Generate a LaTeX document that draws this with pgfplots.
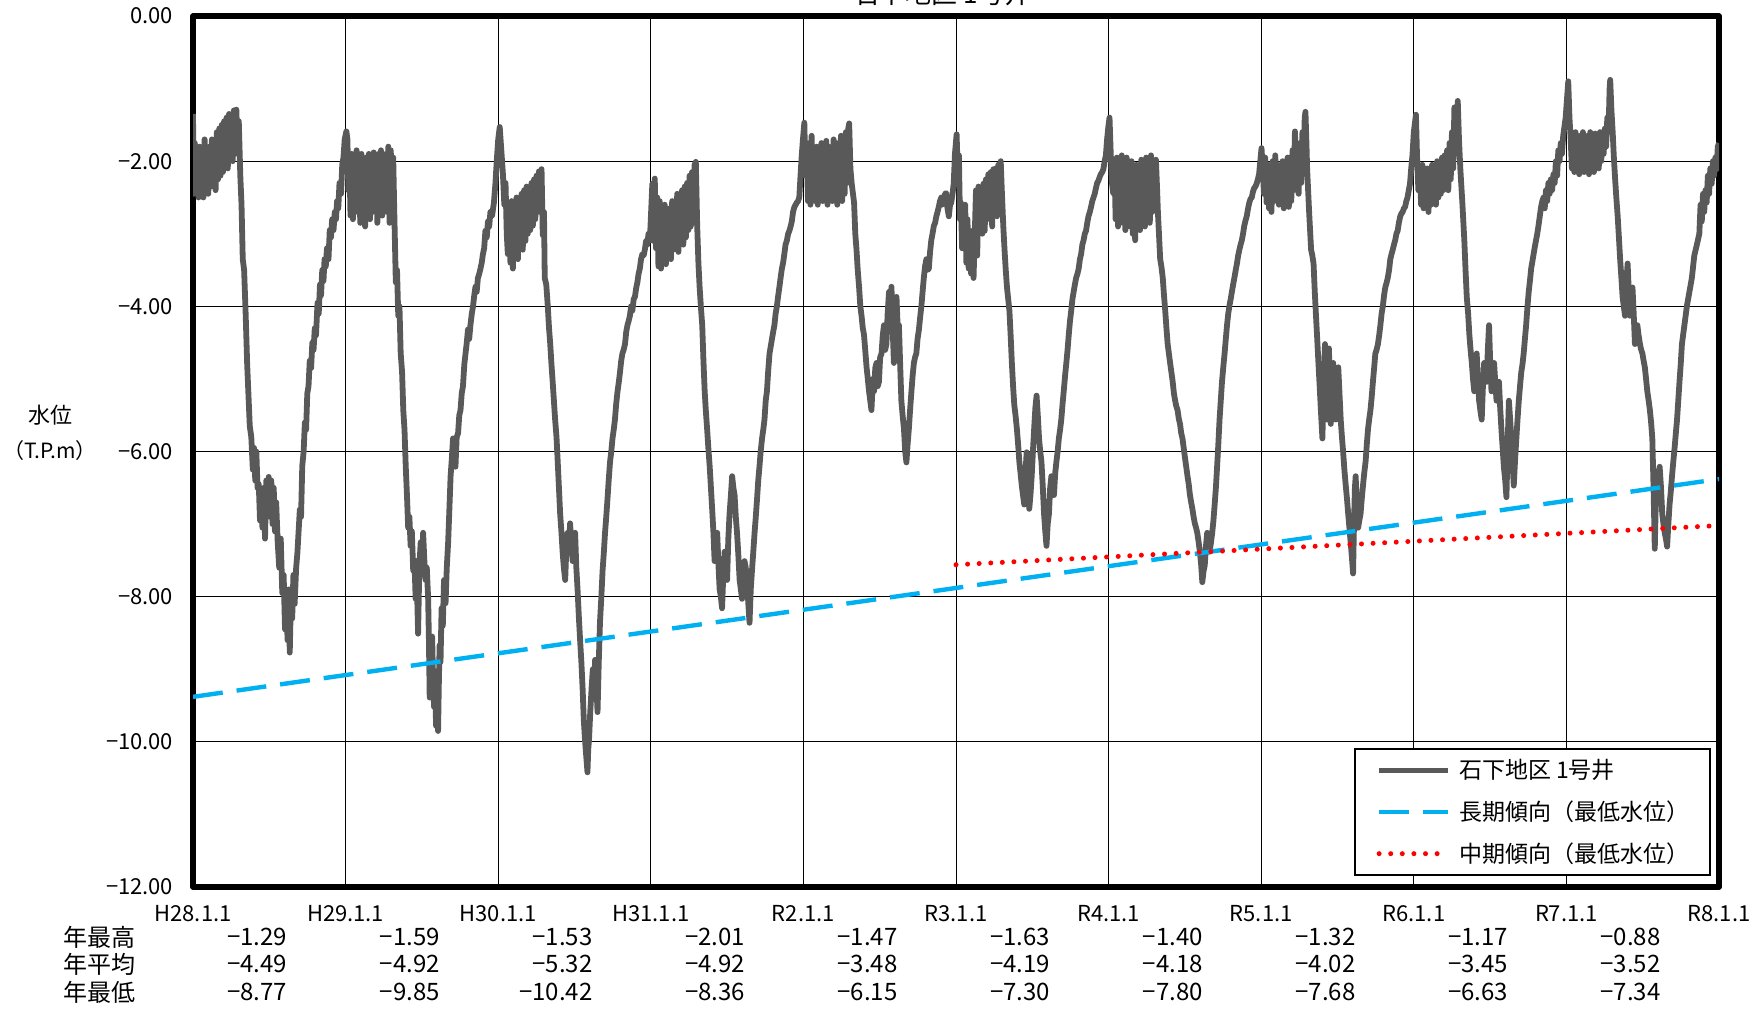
\documentclass[border=0pt]{standalone}
\usepackage{fontspec}
\setmainfont{Noto Sans CJK JP}
\usepackage{pgfplots}
\usepackage{pgfplotstable}
\pgfplotsset{compat=1.18}
\definecolor{wl}{HTML}{595959}
\definecolor{lt}{HTML}{00B0F0}
\pgfplotstableread{
t v
0.000 -1.35
0.005 -2.45
0.012 -1.75
0.020 -2.40
0.028 -1.95
0.036 -2.50
0.044 -1.80
0.052 -2.45
0.060 -1.90
0.068 -2.50
0.076 -1.70
0.084 -2.40
0.092 -1.85
0.100 -2.45
0.108 -1.80
0.116 -2.35
0.124 -1.70
0.132 -2.30
0.140 -1.80
0.148 -2.40
0.156 -1.60
0.164 -2.25
0.172 -1.55
0.180 -2.20
0.188 -1.50
0.196 -2.15
0.204 -1.45
0.212 -2.05
0.220 -1.40
0.228 -2.10
0.236 -1.35
0.244 -1.95
0.252 -1.40
0.260 -2.00
0.268 -1.30
0.276 -1.90
0.284 -1.29
0.292 -1.80
0.300 -1.45
0.310 -2.20
0.318 -2.60
0.326 -3.35
0.335 -3.50
0.345 -4.10
0.355 -4.80
0.365 -5.30
0.372 -5.65
0.382 -5.80
0.392 -6.25
0.400 -5.95
0.408 -6.40
0.415 -6.00
0.423 -6.50
0.431 -6.45
0.439 -6.95
0.447 -6.60
0.455 -7.05
0.464 -6.50
0.472 -7.20
0.480 -6.40
0.488 -6.90
0.496 -6.35
0.505 -6.80
0.513 -6.40
0.521 -7.00
0.529 -6.50
0.537 -7.10
0.545 -6.70
0.555 -7.25
0.565 -7.60
0.575 -7.20
0.585 -7.95
0.594 -7.70
0.603 -8.45
0.611 -8.10
0.620 -8.60
0.627 -7.90
0.634 -8.77
0.642 -8.00
0.650 -8.30
0.658 -7.70
0.666 -8.10
0.676 -7.60
0.684 -7.40
0.692 -7.10
0.700 -6.80
0.708 -6.90
0.716 -6.20
0.725 -6.00
0.733 -5.60
0.741 -5.70
0.749 -5.20
0.757 -5.10
0.765 -4.75
0.774 -4.85
0.782 -4.50
0.790 -4.60
0.798 -4.30
0.806 -4.40
0.816 -3.95
0.824 -4.10
0.832 -3.70
0.839 -3.85
0.847 -3.50
0.855 -3.65
0.862 -3.35
0.870 -3.45
0.878 -3.20
0.888 -3.35
0.896 -2.95
0.904 -3.05
0.912 -2.80
0.921 -2.95
0.929 -2.70
0.937 -2.80
0.944 -2.55
0.952 -2.65
0.960 -2.30
0.970 -2.45
0.978 -2.05
0.986 -1.95
0.994 -1.70
1.005 -1.59
1.012 -1.70
1.018 -2.40
1.025 -1.95
1.032 -2.75
1.040 -1.90
1.048 -2.80
1.056 -2.00
1.064 -2.70
1.072 -1.85
1.080 -2.60
1.088 -1.95
1.096 -2.85
1.104 -1.90
1.112 -2.50
1.120 -2.05
1.128 -2.90
1.136 -1.95
1.144 -2.65
1.152 -1.90
1.160 -2.80
1.168 -2.00
1.176 -2.70
1.184 -1.88
1.192 -2.55
1.200 -1.95
1.208 -2.85
1.216 -1.90
1.224 -2.60
1.232 -1.85
1.240 -2.75
1.248 -1.95
1.256 -2.60
1.264 -1.90
1.272 -2.70
1.280 -1.80
1.288 -2.85
1.296 -1.85
1.304 -2.50
1.312 -1.95
1.319 -2.70
1.329 -3.67
1.337 -3.50
1.345 -4.13
1.353 -4.00
1.361 -4.65
1.370 -4.90
1.378 -5.43
1.386 -5.70
1.394 -6.20
1.402 -6.60
1.410 -7.05
1.418 -6.90
1.426 -7.30
1.434 -7.10
1.443 -7.64
1.451 -7.50
1.459 -8.03
1.467 -7.80
1.475 -8.51
1.483 -7.60
1.492 -7.25
1.500 -7.60
1.508 -7.12
1.516 -7.50
1.524 -7.77
1.532 -7.60
1.541 -8.03
1.546 -8.60
1.551 -9.39
1.559 -8.80
1.567 -8.55
1.574 -9.20
1.580 -9.52
1.587 -9.30
1.593 -9.78
1.600 -9.60
1.606 -9.85
1.611 -9.20
1.616 -8.67
1.622 -8.90
1.629 -8.16
1.637 -8.40
1.645 -7.77
1.650 -8.00
1.655 -8.09
1.663 -7.60
1.672 -7.25
1.680 -6.80
1.688 -6.34
1.696 -6.10
1.704 -5.82
1.712 -6.00
1.720 -6.21
1.728 -5.80
1.737 -5.75
1.745 -5.50
1.753 -5.43
1.761 -5.20
1.769 -5.10
1.778 -4.80
1.786 -4.65
1.794 -4.50
1.802 -4.32
1.810 -4.45
1.818 -4.26
1.827 -4.10
1.835 -4.00
1.843 -3.85
1.851 -3.73
1.859 -3.80
1.867 -3.61
1.876 -3.55
1.884 -3.48
1.892 -3.40
1.900 -3.28
1.908 -3.20
1.916 -2.96
1.925 -3.05
1.933 -2.83
1.941 -2.90
1.949 -2.70
1.960 -2.75
1.972 -2.57
1.982 -2.30
1.991 -1.98
2.000 -1.70
2.010 -1.53
2.022 -1.90
2.031 -2.18
2.040 -2.60
2.048 -2.30
2.056 -3.00
2.063 -3.28
2.071 -2.60
2.080 -3.40
2.088 -2.55
2.096 -3.48
2.104 -2.70
2.112 -3.30
2.120 -2.50
2.129 -3.35
2.137 -2.60
2.145 -3.20
2.153 -2.45
2.161 -3.22
2.170 -2.40
2.178 -3.10
2.186 -2.35
2.194 -3.00
2.202 -2.50
2.210 -2.95
2.218 -2.30
2.227 -2.89
2.235 -2.25
2.243 -2.80
2.251 -2.20
2.259 -2.70
2.267 -2.14
2.276 -2.60
2.284 -2.11
2.292 -3.02
2.300 -2.70
2.305 -3.61
2.315 -3.70
2.325 -4.00
2.333 -4.30
2.341 -4.52
2.349 -4.80
2.357 -5.04
2.365 -5.30
2.373 -5.56
2.382 -5.80
2.390 -6.14
2.398 -6.50
2.406 -6.86
2.414 -7.10
2.422 -7.38
2.430 -7.60
2.439 -7.77
2.447 -7.30
2.455 -7.12
2.463 -7.40
2.471 -6.99
2.480 -7.30
2.488 -7.51
2.496 -7.20
2.504 -7.12
2.512 -7.60
2.520 -7.90
2.529 -8.30
2.537 -8.61
2.545 -8.90
2.553 -9.26
2.561 -9.70
2.569 -9.98
2.577 -10.20
2.585 -10.42
2.590 -10.10
2.595 -9.98
2.603 -9.60
2.612 -9.26
2.620 -9.00
2.628 -9.30
2.635 -8.87
2.643 -9.20
2.651 -9.59
2.659 -8.90
2.667 -8.35
2.676 -8.00
2.684 -7.64
2.692 -7.40
2.700 -7.12
2.708 -6.90
2.716 -6.66
2.724 -6.40
2.733 -6.14
2.741 -6.00
2.749 -5.82
2.757 -5.70
2.765 -5.56
2.773 -5.35
2.782 -5.17
2.790 -5.05
2.798 -4.91
2.806 -4.75
2.814 -4.65
2.822 -4.60
2.831 -4.52
2.839 -4.35
2.847 -4.26
2.855 -4.20
2.863 -4.13
2.871 -4.00
2.879 -4.06
2.888 -3.90
2.896 -3.87
2.904 -3.75
2.912 -3.67
2.920 -3.55
2.928 -3.48
2.936 -3.35
2.945 -3.28
2.953 -3.30
2.961 -3.22
2.969 -3.10
2.977 -3.15
2.985 -3.00
2.994 -3.09
3.002 -2.70
3.010 -2.31
3.018 -3.10
3.026 -2.24
3.034 -3.20
3.042 -2.50
3.050 -3.45
3.058 -2.55
3.067 -3.48
3.075 -2.70
3.083 -3.40
3.091 -2.60
3.099 -3.42
3.107 -2.75
3.115 -3.30
3.124 -2.65
3.132 -3.35
3.140 -2.55
3.148 -3.22
3.156 -2.60
3.164 -3.20
3.173 -2.45
3.181 -3.25
3.189 -2.50
3.197 -3.10
3.205 -2.40
3.213 -3.15
3.222 -2.35
3.230 -3.05
3.238 -2.30
3.246 -2.95
3.254 -2.20
3.262 -2.90
3.270 -2.15
3.279 -2.85
3.287 -2.05
3.295 -2.01
3.304 -2.89
3.312 -3.40
3.320 -3.74
3.328 -4.00
3.337 -4.26
3.345 -4.75
3.353 -5.17
3.361 -5.45
3.369 -5.69
3.377 -5.95
3.386 -6.21
3.394 -6.50
3.402 -6.79
3.410 -7.10
3.418 -7.51
3.426 -7.20
3.435 -7.12
3.443 -7.55
3.451 -7.90
3.459 -8.00
3.467 -8.16
3.475 -7.70
3.484 -7.38
3.492 -7.60
3.500 -7.77
3.508 -7.20
3.516 -6.86
3.525 -6.60
3.533 -6.34
3.541 -6.50
3.549 -6.60
3.557 -6.90
3.565 -7.12
3.573 -7.40
3.582 -7.77
3.590 -7.90
3.598 -8.03
3.606 -7.70
3.614 -7.51
3.622 -7.60
3.631 -7.77
3.639 -8.10
3.647 -8.36
3.655 -7.90
3.663 -7.64
3.671 -7.40
3.680 -7.12
3.688 -6.90
3.696 -6.66
3.704 -6.40
3.712 -6.21
3.720 -6.00
3.729 -5.82
3.737 -5.70
3.745 -5.56
3.753 -5.30
3.761 -5.17
3.769 -4.90
3.778 -4.65
3.786 -4.55
3.794 -4.45
3.802 -4.35
3.810 -4.26
3.818 -4.10
3.826 -4.00
3.835 -3.85
3.843 -3.73
3.851 -3.60
3.859 -3.48
3.867 -3.40
3.875 -3.28
3.883 -3.15
3.892 -3.09
3.900 -3.00
3.908 -2.96
3.916 -2.90
3.924 -2.83
3.932 -2.70
3.941 -2.63
3.949 -2.60
3.957 -2.57
3.965 -2.55
3.973 -2.50
3.981 -2.20
3.989 -1.92
3.997 -1.70
4.006 -1.47
4.014 -2.20
4.022 -1.85
4.030 -2.55
4.038 -1.75
4.046 -2.60
4.054 -1.65
4.062 -2.50
4.070 -1.85
4.078 -2.55
4.086 -1.80
4.094 -2.60
4.102 -1.90
4.110 -2.50
4.118 -1.75
4.126 -2.55
4.134 -1.85
4.142 -2.45
4.150 -1.72
4.158 -2.60
4.166 -1.80
4.174 -2.50
4.182 -1.90
4.190 -2.55
4.198 -1.70
4.206 -2.45
4.214 -1.80
4.222 -2.60
4.230 -1.75
4.238 -2.50
4.246 -1.65
4.254 -2.55
4.262 -1.80
4.270 -2.45
4.278 -1.60
4.286 -2.30
4.294 -1.55
4.300 -1.48
4.308 -2.10
4.316 -2.30
4.332 -2.57
4.340 -3.00
4.348 -3.22
4.356 -3.50
4.365 -3.74
4.373 -4.00
4.381 -4.13
4.389 -4.30
4.397 -4.39
4.405 -4.60
4.414 -4.84
4.422 -5.00
4.430 -5.17
4.438 -5.30
4.446 -5.43
4.455 -5.00
4.463 -5.17
4.471 -4.85
4.479 -4.78
4.487 -5.10
4.495 -5.04
4.503 -4.70
4.512 -4.65
4.520 -4.40
4.528 -4.26
4.536 -4.60
4.544 -4.52
4.552 -4.10
4.561 -3.80
4.569 -4.20
4.577 -3.73
4.585 -4.30
4.593 -4.78
4.601 -4.20
4.610 -3.87
4.618 -4.30
4.626 -4.26
4.634 -4.80
4.642 -5.30
4.650 -5.50
4.659 -5.69
4.667 -6.00
4.675 -6.15
4.683 -5.90
4.691 -5.69
4.700 -5.40
4.708 -5.17
4.716 -4.95
4.724 -4.78
4.732 -4.70
4.740 -4.65
4.748 -4.45
4.757 -4.32
4.765 -4.15
4.773 -4.00
4.781 -3.80
4.789 -3.61
4.797 -3.45
4.806 -3.35
4.814 -3.50
4.822 -3.48
4.830 -3.25
4.838 -3.09
4.846 -3.00
4.855 -2.89
4.863 -2.85
4.871 -2.76
4.879 -2.70
4.887 -2.63
4.895 -2.55
4.904 -2.50
4.912 -2.60
4.920 -2.57
4.928 -2.45
4.936 -2.44
4.944 -2.65
4.953 -2.76
4.961 -2.60
4.969 -2.57
4.977 -2.45
4.985 -2.31
4.993 -1.90
5.004 -1.63
5.012 -2.20
5.019 -1.92
5.026 -2.80
5.032 -2.57
5.040 -3.20
5.046 -2.70
5.052 -3.09
5.060 -2.60
5.068 -3.40
5.075 -2.80
5.083 -3.48
5.091 -3.00
5.099 -3.55
5.107 -2.96
5.115 -3.61
5.123 -3.00
5.131 -2.40
5.139 -3.30
5.147 -2.35
5.156 -2.76
5.164 -2.45
5.172 -3.00
5.180 -2.31
5.188 -2.96
5.196 -2.25
5.204 -2.80
5.212 -2.18
5.220 -2.70
5.228 -2.15
5.237 -2.90
5.245 -2.11
5.253 -2.70
5.261 -2.10
5.269 -2.76
5.277 -2.05
5.285 -2.65
5.293 -2.00
5.301 -2.45
5.310 -2.90
5.318 -3.22
5.326 -3.50
5.334 -3.74
5.342 -3.90
5.350 -4.06
5.358 -4.40
5.366 -4.78
5.374 -5.10
5.382 -5.36
5.390 -5.50
5.399 -5.69
5.407 -5.90
5.415 -6.14
5.423 -6.30
5.431 -6.47
5.439 -6.60
5.447 -6.73
5.455 -6.30
5.463 -6.01
5.471 -6.50
5.480 -6.79
5.488 -6.60
5.496 -6.34
5.504 -6.00
5.512 -5.69
5.520 -5.40
5.528 -5.23
5.536 -5.50
5.544 -5.82
5.552 -6.00
5.560 -6.14
5.569 -6.50
5.577 -6.86
5.585 -7.10
5.593 -7.30
5.601 -7.00
5.609 -6.86
5.617 -6.50
5.625 -6.34
5.634 -6.60
5.642 -6.60
5.650 -6.30
5.658 -6.14
5.666 -6.00
5.674 -5.82
5.682 -5.70
5.690 -5.56
5.698 -5.35
5.706 -5.17
5.715 -4.95
5.723 -4.78
5.731 -4.60
5.739 -4.39
5.747 -4.20
5.755 -4.06
5.763 -3.90
5.771 -3.80
5.779 -3.70
5.787 -3.61
5.796 -3.55
5.804 -3.48
5.812 -3.35
5.820 -3.28
5.828 -3.15
5.836 -3.09
5.844 -3.00
5.852 -2.96
5.860 -2.85
5.868 -2.76
5.877 -2.70
5.885 -2.63
5.893 -2.55
5.901 -2.50
5.909 -2.45
5.917 -2.37
5.925 -2.30
5.933 -2.27
5.941 -2.22
5.949 -2.18
5.958 -2.15
5.966 -2.11
5.974 -2.00
5.982 -1.92
5.990 -1.70
5.998 -1.53
6.006 -1.40
6.014 -1.90
6.022 -2.30
6.030 -2.44
6.038 -2.00
6.046 -2.80
6.054 -1.95
6.062 -2.90
6.070 -2.10
6.078 -2.85
6.086 -1.92
6.094 -2.70
6.102 -2.05
6.110 -2.95
6.118 -1.95
6.126 -2.80
6.134 -2.10
6.142 -2.90
6.150 -2.00
6.158 -3.00
6.166 -2.20
6.174 -3.09
6.182 -2.05
6.190 -2.85
6.198 -2.15
6.206 -2.95
6.214 -1.98
6.222 -2.80
6.230 -2.05
6.238 -2.90
6.246 -1.95
6.254 -2.75
6.262 -2.00
6.270 -2.85
6.278 -1.92
6.286 -2.70
6.294 -2.00
6.302 -2.60
6.310 -1.98
6.318 -2.40
6.323 -2.70
6.330 -3.00
6.338 -3.35
6.346 -3.45
6.355 -3.61
6.363 -3.85
6.371 -4.06
6.379 -4.30
6.387 -4.52
6.395 -4.65
6.403 -4.78
6.411 -4.90
6.420 -5.04
6.428 -5.20
6.436 -5.30
6.444 -5.38
6.452 -5.43
6.460 -5.55
6.468 -5.62
6.476 -5.75
6.484 -5.82
6.492 -5.95
6.500 -6.08
6.508 -6.20
6.517 -6.34
6.525 -6.45
6.533 -6.60
6.541 -6.70
6.549 -6.79
6.557 -6.90
6.565 -6.99
6.573 -7.05
6.581 -7.12
6.590 -7.25
6.598 -7.38
6.606 -7.55
6.614 -7.80
6.622 -7.65
6.630 -7.57
6.638 -7.30
6.646 -7.12
6.654 -7.30
6.662 -7.38
6.671 -7.25
6.679 -7.12
6.687 -6.95
6.695 -6.73
6.703 -6.50
6.711 -6.21
6.719 -5.90
6.727 -5.56
6.735 -5.30
6.743 -5.04
6.751 -4.85
6.760 -4.65
6.768 -4.45
6.776 -4.26
6.784 -4.10
6.792 -3.99
6.800 -3.90
6.808 -3.80
6.816 -3.70
6.824 -3.61
6.833 -3.50
6.841 -3.41
6.849 -3.30
6.857 -3.22
6.865 -3.15
6.873 -3.09
6.881 -3.00
6.889 -2.89
6.897 -2.82
6.905 -2.76
6.914 -2.65
6.922 -2.57
6.930 -2.52
6.938 -2.50
6.946 -2.42
6.954 -2.37
6.962 -2.35
6.970 -2.31
6.978 -2.25
6.986 -2.18
6.994 -2.00
7.002 -1.82
7.010 -2.10
7.018 -2.45
7.026 -1.95
7.035 -2.57
7.043 -2.05
7.051 -2.65
7.059 -2.10
7.067 -2.70
7.075 -2.00
7.083 -2.55
7.092 -1.92
7.100 -2.50
7.108 -2.05
7.116 -2.60
7.124 -2.10
7.132 -2.57
7.140 -2.00
7.148 -2.65
7.157 -2.11
7.165 -2.50
7.173 -1.95
7.181 -2.63
7.189 -2.05
7.197 -2.55
7.205 -1.85
7.213 -2.40
7.221 -1.59
7.229 -2.20
7.237 -1.90
7.245 -2.45
7.254 -1.75
7.262 -2.30
7.270 -1.60
7.278 -2.10
7.285 -1.40
7.290 -1.32
7.297 -1.80
7.301 -2.11
7.314 -2.70
7.327 -3.22
7.335 -3.30
7.343 -3.41
7.351 -3.80
7.359 -4.13
7.367 -4.45
7.375 -4.78
7.383 -5.10
7.391 -5.43
7.401 -5.82
7.410 -5.00
7.418 -4.52
7.425 -5.00
7.431 -5.56
7.437 -5.00
7.444 -4.58
7.450 -5.20
7.456 -5.62
7.464 -5.10
7.472 -4.78
7.480 -5.20
7.489 -5.56
7.497 -5.10
7.505 -4.84
7.513 -5.20
7.521 -5.56
7.529 -5.80
7.537 -6.01
7.545 -6.25
7.554 -6.47
7.562 -6.65
7.570 -6.86
7.578 -7.05
7.586 -7.25
7.594 -7.45
7.602 -7.68
7.608 -7.00
7.614 -6.50
7.619 -6.34
7.627 -6.80
7.635 -7.05
7.643 -6.95
7.651 -6.86
7.659 -6.65
7.667 -6.47
7.675 -6.30
7.684 -6.14
7.692 -5.90
7.700 -5.69
7.708 -5.55
7.716 -5.43
7.724 -5.25
7.732 -5.04
7.740 -4.85
7.748 -4.65
7.756 -4.60
7.765 -4.52
7.773 -4.40
7.781 -4.26
7.789 -4.10
7.797 -4.00
7.805 -3.85
7.813 -3.74
7.821 -3.68
7.829 -3.61
7.838 -3.50
7.846 -3.35
7.854 -3.28
7.862 -3.22
7.870 -3.15
7.878 -3.09
7.886 -3.00
7.894 -2.96
7.902 -2.85
7.911 -2.76
7.919 -2.72
7.927 -2.70
7.935 -2.65
7.943 -2.63
7.951 -2.55
7.959 -2.50
7.967 -2.40
7.975 -2.31
7.983 -2.10
7.991 -1.92
8.000 -1.60
8.014 -1.36
8.022 -2.00
8.030 -2.40
8.040 -2.18
8.048 -2.60
8.056 -2.05
8.064 -2.65
8.072 -2.20
8.080 -2.57
8.088 -2.10
8.096 -2.70
8.104 -2.25
8.112 -2.60
8.120 -2.05
8.128 -2.55
8.137 -2.18
8.145 -2.60
8.153 -2.00
8.161 -2.50
8.169 -2.10
8.177 -2.45
8.185 -1.95
8.193 -2.40
8.202 -1.92
8.210 -2.35
8.218 -1.85
8.226 -2.40
8.234 -1.75
8.242 -2.25
8.250 -1.60
8.258 -2.10
8.266 -1.26
8.274 -1.90
8.282 -1.50
8.288 -1.17
8.296 -1.70
8.305 -2.11
8.318 -2.57
8.331 -3.09
8.339 -3.50
8.347 -3.87
8.356 -4.10
8.364 -4.39
8.372 -4.60
8.380 -4.78
8.388 -5.00
8.396 -5.17
8.404 -4.85
8.412 -4.65
8.420 -5.00
8.428 -5.30
8.437 -5.45
8.445 -5.56
8.453 -5.10
8.461 -4.78
8.469 -4.95
8.477 -5.04
8.485 -4.60
8.493 -4.26
8.501 -4.80
8.509 -5.17
8.518 -4.95
8.526 -4.78
8.534 -5.05
8.542 -5.30
8.550 -5.15
8.558 -5.04
8.566 -5.40
8.574 -5.69
8.582 -5.95
8.590 -6.21
8.599 -6.40
8.607 -6.63
8.615 -5.90
8.623 -5.30
8.631 -5.55
8.639 -5.82
8.647 -6.15
8.655 -6.47
8.664 -6.10
8.672 -5.82
8.680 -5.55
8.688 -5.30
8.696 -5.10
8.704 -4.91
8.712 -4.80
8.720 -4.65
8.728 -4.45
8.736 -4.26
8.745 -4.00
8.753 -3.80
8.761 -3.65
8.769 -3.48
8.777 -3.38
8.785 -3.28
8.793 -3.18
8.801 -3.09
8.809 -3.00
8.817 -2.89
8.826 -2.75
8.834 -2.63
8.842 -2.55
8.850 -2.50
8.858 -2.65
8.866 -2.40
8.874 -2.55
8.882 -2.30
8.890 -2.45
8.898 -2.25
8.906 -2.40
8.915 -2.18
8.923 -2.30
8.931 -2.00
8.939 -2.20
8.947 -1.85
8.955 -2.00
8.963 -1.75
8.971 -1.90
8.979 -1.65
8.995 -1.40
9.012 -0.90
9.020 -1.40
9.028 -1.70
9.036 -2.10
9.044 -1.65
9.052 -2.15
9.060 -1.60
9.068 -2.05
9.076 -1.70
9.084 -2.18
9.092 -1.65
9.100 -2.10
9.108 -1.60
9.116 -2.15
9.124 -1.72
9.132 -2.05
9.140 -1.65
9.148 -2.18
9.156 -1.60
9.164 -2.10
9.172 -1.70
9.180 -2.15
9.188 -1.62
9.196 -2.05
9.204 -1.70
9.212 -2.10
9.220 -1.60
9.228 -2.00
9.236 -1.65
9.244 -1.90
9.252 -1.55
9.260 -1.80
9.268 -1.40
9.276 -1.60
9.283 -1.00
9.287 -0.88
9.295 -1.30
9.303 -1.59
9.311 -1.95
9.319 -2.24
9.327 -2.50
9.336 -2.76
9.344 -3.05
9.352 -3.35
9.360 -3.60
9.368 -3.87
9.376 -4.00
9.384 -4.13
9.392 -3.70
9.401 -3.41
9.409 -3.80
9.417 -4.13
9.425 -3.95
9.433 -3.74
9.441 -4.10
9.449 -4.52
9.457 -4.40
9.465 -4.26
9.473 -4.40
9.482 -4.52
9.490 -4.60
9.498 -4.65
9.506 -4.75
9.514 -4.84
9.522 -5.00
9.530 -5.17
9.539 -5.30
9.547 -5.43
9.555 -5.60
9.563 -5.82
9.571 -6.50
9.579 -7.34
9.587 -6.60
9.595 -6.27
9.603 -6.40
9.611 -6.21
9.620 -6.50
9.628 -6.86
9.636 -7.00
9.644 -7.12
9.652 -7.20
9.660 -7.31
9.668 -7.00
9.676 -6.73
9.684 -6.55
9.692 -6.34
9.700 -6.15
9.709 -5.95
9.717 -5.75
9.725 -5.56
9.733 -5.30
9.741 -5.04
9.749 -4.80
9.757 -4.52
9.790 -3.99
9.822 -3.61
9.838 -3.30
9.855 -3.15
9.871 -3.00
9.879 -2.60
9.887 -2.83
9.895 -2.45
9.903 -2.70
9.911 -2.40
9.919 -2.57
9.927 -2.20
9.935 -2.45
9.943 -2.10
9.952 -2.31
9.960 -2.00
9.968 -2.20
9.976 -1.95
9.984 -2.11
9.992 -1.80
10.000 -1.75
}\wdata
\newcommand{\fs}[1]{\fontsize{#1}{#1}\selectfont}
\begin{document}
\begin{tikzpicture}
\path[use as bounding box] (0,0) rectangle (878pt,504.5pt);
\begin{axis}[
  at={(96.5pt,61pt)}, anchor=south west,
  scale only axis, width=763pt, height=435.5pt,
  xmin=0, xmax=10, ymin=-12, ymax=0,
  xtick={0,1,2,3,4,5,6,7,8,9,10},
  xticklabels={H28.1.1,H29.1.1,H30.1.1,H31.1.1,R2.1.1,R3.1.1,R4.1.1,R5.1.1,R6.1.1,R7.1.1,R8.1.1},
  ytick={-12,-10,-8,-6,-4,-2,0},
  yticklabels={−12.00,−10.00,−8.00,−6.00,−4.00,−2.00,0.00},
  minor y tick num=19,
  grid=major,
  major grid style={black, line width=0.5pt},
  axis line style={line width=2.6pt, black, line join=round},
  ytick pos=left,
  tick align=inside,
  major tick length=1.6pt,
  minor tick length=1.6pt,
  ytick style={black, line width=0.6pt},
  xtick style={draw=none},
  tick label style={font=\fs{11pt}},
  yticklabel style={inner sep=0pt, anchor=east, xshift=-9.7pt},
  xticklabel style={inner sep=0pt, anchor=north, yshift=-9pt},
  legend style={at={(1,0)}, anchor=south east, xshift=-4pt, yshift=5.5pt,
    draw=black, line width=1pt, fill=white, font=\fs{11.5pt},
    inner xsep=10.5pt, inner ysep=5pt, row sep=9.5pt,
    nodes={inner sep=0pt, anchor=west}},
  legend cell align=left,
  legend image code/.code={\draw[#1] (0pt,0pt) -- (34.5pt,0pt);},
  legend columns=1,
]
\addplot[wl, line width=2.9pt, line join=round] table[x=t, y=v] {\wdata};
\addlegendentry{\hspace{4pt}石下地区 1号井}
\addplot[lt, line width=2.2pt, dash pattern=on 15pt off 7pt] coordinates {(0,-9.38) (10,-6.38)};
\addlegendentry{\hspace{4pt}長期傾向（最低水位）}
\addplot[red, line width=2.5pt, line cap=round, dash pattern=on 0pt off 5.8pt] coordinates {(5,-7.56) (10,-7.02)};
\addlegendentry{\hspace{4pt}中期傾向（最低水位）}
\end{axis}
% title (cut off at top as in the reference)
\node[font=\fs{13pt}, anchor=base] at (471pt,502.5pt) {石下地区 1号井};
% y label
\node[font=\fs{11pt}] at (25pt,297pt) {水位};
\node[font=\fs{10.5pt}] at (25pt,279pt) {（T.P.m）};
% table
\node[font=\fs{12pt}] at (49.5pt,36pt) {年最高};
\node[font=\fs{12pt}] at (49.5pt,22.5pt) {年平均};
\node[font=\fs{12pt}] at (49.5pt,8.5pt) {年最低};
\foreach \x/\a/\b/\c in {143.8/−1.29/−4.49/−8.77, 220.1/−1.59/−4.92/−9.85, 296.4/−1.53/−5.32/−10.42, 372.7/−2.01/−4.92/−8.36, 449.0/−1.47/−3.48/−6.15, 525.3/−1.63/−4.19/−7.30, 601.6/−1.40/−4.18/−7.80, 677.9/−1.32/−4.02/−7.68, 754.2/−1.17/−3.45/−6.63, 830.5/−0.88/−3.52/−7.34}{
  \node[font=\fs{12pt}, anchor=east, inner sep=0pt] at (\x pt,36pt) {\a};
  \node[font=\fs{12pt}, anchor=east, inner sep=0pt] at (\x pt,22.5pt) {\b};
  \node[font=\fs{12pt}, anchor=east, inner sep=0pt] at (\x pt,8.5pt) {\c};
}
\end{tikzpicture}
\end{document}
